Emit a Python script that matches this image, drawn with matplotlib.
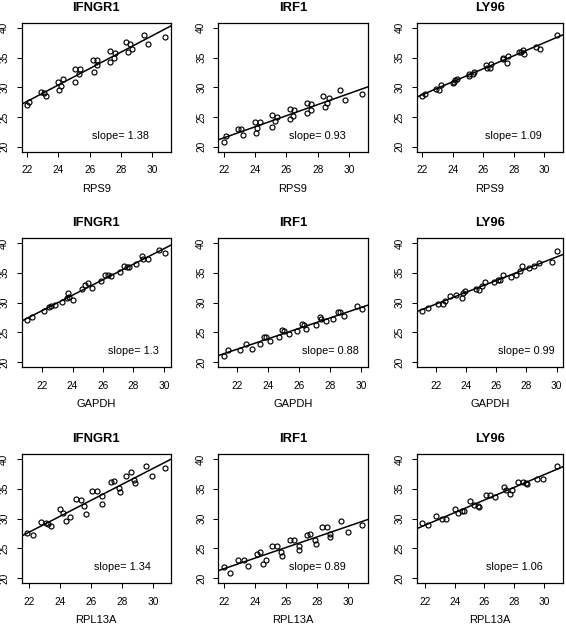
import matplotlib
matplotlib.use("Agg")
import matplotlib.pyplot as plt
import numpy as np

plt.rcParams['font.family'] = ['Liberation Sans', 'DejaVu Sans']

genes = ["IFNGR1", "IRF1", "LY96"]
refs = ["RPS9", "GAPDH", "RPL13A"]
slopes = [1.38, 0.93, 1.09, 1.3, 0.88, 0.99, 1.34, 0.89, 1.06]
yticks = [20, 25, 30, 35, 40]
xticks = [22, 24, 26, 28, 30]

# Row 1: reference RPS9
x_rps9 = [22.0, 22.15, 22.9, 23.1, 23.2, 24.0, 24.05, 24.15, 24.3, 25.05, 25.05, 25.3, 25.4, 26.2,
          26.25, 26.45, 26.5, 27.3, 27.3, 27.55, 27.6, 28.35, 28.45, 28.6, 28.7, 29.45, 29.75, 30.85]
y_ifngr1_rps9 = [27.04, 27.6, 29.2, 29.05, 28.55, 30.8, 29.5, 30.2, 31.45, 33.0, 30.8, 32.2, 33.1, 34.5,
                 32.6, 33.7, 34.5, 36.1, 34.25, 35.0, 35.75, 37.65, 35.98, 37.2, 36.37, 38.77, 37.2, 38.44]
y_irf1_rps9 = [20.78, 21.84, 22.9, 22.9, 22.0, 24.08, 22.35, 23.1, 24.08, 25.36, 23.4, 24.25, 25.08, 26.42,
               24.69, 25.2, 26.15, 27.43, 25.64, 26.2, 27.15, 28.49, 26.7, 27.37, 28.27, 29.5, 27.82, 28.83]
y_ly96_rps9 = [28.55, 28.94, 29.66, 29.5, 30.34, 30.78, 30.9, 31.17, 31.45, 32.3, 31.9, 32.3, 32.63, 33.7,
               33.3, 33.3, 33.85, 34.7, 34.9, 34.1, 35.2, 36.0, 36.0, 36.2, 35.6, 36.8, 36.5, 38.77]

# Row 2: reference GAPDH
x_ifngr1_gapdh = [21.01, 21.34, 22.13, 22.46, 22.57, 22.88, 23.34, 23.65, 23.7, 23.8, 24.0, 24.65, 24.83,
                  25.03, 25.29, 25.88, 26.14, 26.36, 26.52, 27.13, 27.37, 27.55, 27.72, 28.2, 28.6, 28.64,
                  28.97, 29.7, 30.11]
y_ifngr1_gapdh = [27.11, 27.5, 28.5, 29.19, 29.36, 29.64, 30.08, 30.7, 31.6, 31.0, 30.5, 32.27, 33.0,
                  33.28, 32.4, 33.67, 34.68, 34.68, 34.4, 35.07, 36.08, 35.9, 35.9, 36.47, 37.87, 37.3,
                  37.35, 38.77, 38.32]
x_irf1_gapdh = [21.17, 21.47, 22.21, 22.62, 22.96, 23.47, 23.77, 23.86, 24.11, 24.71, 24.92, 25.05, 25.37,
                25.88, 26.2, 26.33, 26.48, 27.12, 27.39, 27.44, 27.76, 28.2, 28.5, 28.63, 28.93, 29.74, 30.08]
y_irf1_gapdh = [20.95, 21.96, 21.96, 23.0, 22.24, 23.0, 24.26, 24.15, 23.47, 24.2, 25.44, 25.15, 24.76,
                25.27, 26.44, 26.22, 25.55, 26.27, 27.5, 27.23, 26.83, 27.23, 28.4, 28.35, 27.68, 29.47, 28.91]
x_ly96_gapdh = [21.1, 21.46, 22.11, 22.49, 22.6, 22.92, 23.35, 23.72, 23.78, 23.95, 24.64, 24.86, 25.07,
                25.28, 25.82, 26.08, 26.25, 26.46, 27.0, 27.32, 27.54, 27.69, 28.14, 28.5, 28.85, 29.68, 30.03]
y_ly96_gapdh = [28.63, 29.08, 29.8, 29.75, 30.3, 31.04, 31.2, 30.8, 31.6, 32.0, 32.33, 32.16, 32.83,
                33.39, 33.39, 33.84, 33.84, 34.68, 34.23, 34.68, 35.24, 36.08, 35.8, 36.08, 36.64, 36.75, 38.71]

# Row 3: reference RPL13A
x_ifngr1_rpl13a = [21.87, 22.26, 22.8, 23.12, 23.23, 23.44, 24.02, 24.19, 24.41, 24.62, 25.01, 25.33, 25.55,
                   25.7, 26.09, 26.39, 26.69, 26.69, 27.31, 27.48, 27.81, 27.85, 28.24, 28.6, 28.77, 28.82,
                   29.53, 29.9, 30.8]
y_ifngr1_rpl13a = [27.56, 27.28, 29.36, 29.24, 29.13, 28.68, 31.65, 30.92, 29.52, 30.25, 33.28, 33.05, 32.16,
                   30.81, 34.68, 34.68, 33.73, 32.5, 36.08, 36.25, 35.13, 34.4, 37.2, 37.76, 36.53, 35.97,
                   38.77, 37.2, 38.49]
x_irf1_rpl13a = [21.96, 22.36, 22.9, 23.28, 23.54, 24.07, 24.29, 24.5, 24.67, 25.08, 25.42, 25.68, 25.74,
                 26.21, 26.49, 26.81, 26.81, 27.35, 27.5, 27.82, 27.88, 28.27, 28.63, 28.82, 28.82, 29.53,
                 29.96, 30.9]
y_irf1_rpl13a = [21.9, 20.84, 23.08, 23.08, 22.07, 24.09, 24.31, 22.41, 23.08, 25.32, 25.32, 24.31, 23.64,
                 26.44, 26.44, 25.43, 24.65, 27.28, 27.45, 26.33, 25.77, 28.57, 28.52, 27.39, 26.83, 29.52,
                 27.79, 28.96]
x_ly96_rpl13a = [21.83, 22.2, 22.76, 23.13, 23.39, 24.0, 24.22, 24.48, 24.66, 25.03, 25.31, 25.57, 25.64,
                 26.12, 26.4, 26.73, 27.34, 27.45, 27.75, 27.88, 28.25, 28.58, 28.8, 28.84, 29.56, 29.93, 30.89]
y_ly96_rpl13a = [29.24, 28.85, 30.36, 29.92, 29.92, 31.65, 30.92, 31.2, 31.2, 32.89, 32.33, 32.16, 31.93,
                 33.9, 33.9, 33.61, 35.29, 34.85, 34.12, 34.85, 36.08, 36.08, 35.97, 35.85, 36.64, 36.69, 38.77]

panel_x = [x_rps9, x_rps9, x_rps9,
           x_ifngr1_gapdh, x_irf1_gapdh, x_ly96_gapdh,
           x_ifngr1_rpl13a, x_irf1_rpl13a, x_ly96_rpl13a]
panel_y = [y_ifngr1_rps9, y_irf1_rps9, y_ly96_rps9,
           y_ifngr1_gapdh, y_irf1_gapdh, y_ly96_gapdh,
           y_ifngr1_rpl13a, y_irf1_rpl13a, y_ly96_rpl13a]

W, H = 566, 624
fig = plt.figure(figsize=(W / 100, H / 100), dpi=100)

col_left = [21.5, 218.3, 417.0]
col_w = [149.5, 149.5, 145.5]
row_top = [23.0, 238.3, 454.3]
row_h = 128.5

for r in range(3):
    for c in range(3):
        i = r * 3 + c
        x = np.array(panel_x[i])
        y = np.array(panel_y[i])
        l = col_left[c]; w = col_w[c]; t = row_top[r]
        ax = fig.add_axes([l / W, (H - t - row_h) / H, w / W, row_h / H])
        ax.plot(x, y, linestyle='none', marker='o', markersize=3.6,
                markerfacecolor='none', markeredgecolor='black', markeredgewidth=0.85)
        s = slopes[i]
        b = y.mean() - s * x.mean()
        ax.axline((0, b), slope=s, color='black', linewidth=1.1)
        rng = x.max() - x.min()
        ax.set_xlim(x.min() - 0.04 * rng, x.max() + 0.04 * rng)
        ax.set_ylim(19.2, 40.8)
        ax.set_xticks(xticks)
        ax.set_yticks(yticks)
        ax.tick_params(direction='out', length=3.8, width=0.75, labelsize=7.3, colors='black')
        ax.tick_params(axis='x', pad=6.2)
        ax.tick_params(axis='y', pad=5, labelrotation=90)
        for lab in ax.get_yticklabels():
            lab.set_va('center')
        for sp in ax.spines.values():
            sp.set_linewidth(0.9)
        ax.text(28.0, 21.8, f"slope= {s:g}", ha='center', va='center', fontsize=7.8)
        ax.text(0.5, 1 + 12 / row_h, genes[c], transform=ax.transAxes, ha='center',
                va='baseline', fontsize=9.4, fontweight='bold')
        ax.text(0.5, -40 / row_h, refs[r], transform=ax.transAxes, ha='center',
                va='baseline', fontsize=8)

fig.savefig("out.png", dpi=100)
